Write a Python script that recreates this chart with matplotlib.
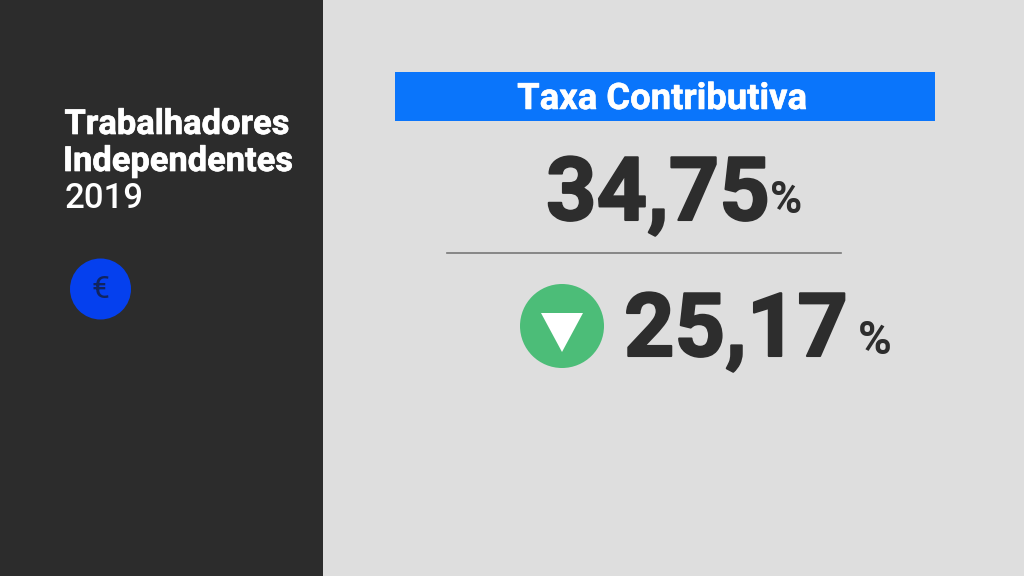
import matplotlib
matplotlib.use("Agg")
import matplotlib.pyplot as plt
import matplotlib.patheffects as pe
from matplotlib.patches import Rectangle, Circle, Polygon

title_lines = ["Trabalhadores", "Independentes"]
year = "2019"
header = "Taxa Contributiva"
value_top = "34,75"
value_bottom = "25,17"
unit = "%"

fig = plt.figure(figsize=(10.24, 5.76), dpi=100, facecolor="#dedede")
ax = fig.add_axes([0, 0, 1, 1])
ax.set_xlim(0, 1024)
ax.set_ylim(576, 0)
ax.axis("off")
F = "Roboto"
dark = "#2d2d2d"


def heavy(color, width):
    return [pe.withStroke(linewidth=width, foreground=color)]


ax.add_patch(Rectangle((0, 0), 323, 576, color="#2c2c2c", lw=0))
ax.text(64.5, 125, title_lines[0], family=F, weight="bold", fontsize=24.8, color="white", va="center", ha="left",
        path_effects=heavy("white", 0.5))
ax.text(63, 162, title_lines[1], family=F, weight="bold", fontsize=24.8, color="white", va="center", ha="left",
        path_effects=heavy("white", 0.5))
ax.text(65, 199, year, family=F, weight="medium", fontsize=25, color="white", va="center", ha="left")
ax.add_patch(Circle((100.5, 289), 30.5, color="#0540ee", lw=0))
ax.text(100.5, 290, "€", family=F, fontsize=23, color="#10245f", va="center", ha="center")

ax.add_patch(Rectangle((395, 72), 540, 49, color="#0a75fb", lw=0))
ax.text(662, 99, header, family=F, weight="bold", fontsize=26.2, color="white", va="center", ha="center",
        path_effects=heavy("white", 0.4))
ax.text(546, 196, value_top, family=F, weight="bold", fontsize=63.5, color=dark, va="center", ha="left",
        path_effects=heavy(dark, 1.5))
ax.text(770, 201, unit, family=F, weight="bold", fontsize=31.5, color=dark, va="center", ha="left")
ax.plot([447, 841], [253, 253], color="#777777", lw=1.2)
ax.add_patch(Circle((562, 326), 42, color="#4cbd78", lw=0))
ax.add_patch(Polygon([(541, 313), (583, 313), (562, 352)], color="white", lw=0))
ax.text(624, 332, value_bottom, family=F, weight="bold", fontsize=63.5, color=dark, va="center", ha="left",
        path_effects=heavy(dark, 1.5))
ax.text(858, 341, unit, family=F, weight="bold", fontsize=33, color=dark, va="center", ha="left")

fig.savefig("out.png", dpi=100, facecolor=fig.get_facecolor())
